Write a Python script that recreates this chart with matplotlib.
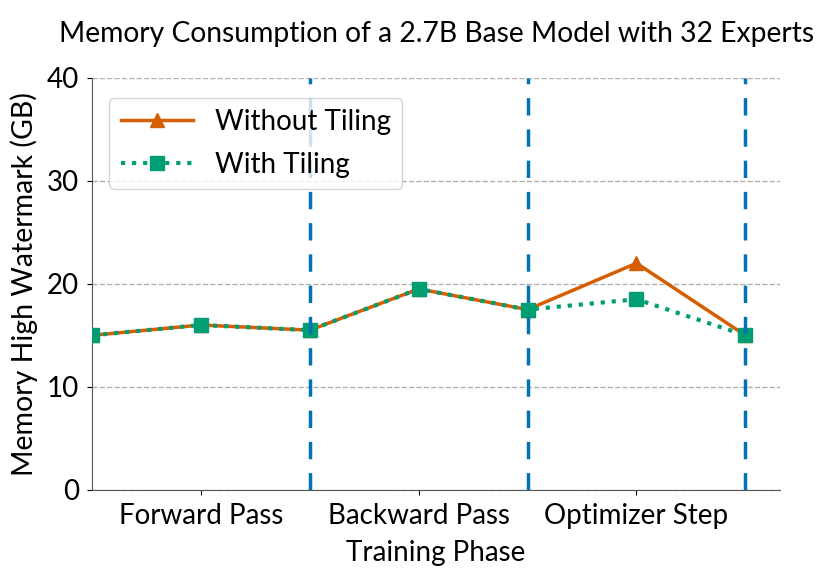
import matplotlib
matplotlib.use("Agg")
import matplotlib.pyplot as plt

plt.rcParams['font.family'] = ['Lato', 'DejaVu Sans']

# data
steps = [0, 1, 2, 3, 4, 5, 6]
without_tiling = [15, 16, 15.5, 19.5, 17.5, 22, 15]
with_tiling = [15, 16, 15.5, 19.5, 17.5, 18.5, 15]
phase_ticks = [1, 3, 5]
phase_labels = ['Forward Pass', 'Backward Pass', 'Optimizer Step']
phase_bounds = [2, 4, 6]

fig = plt.figure(figsize=(8.3, 5.81), dpi=100)
ax = fig.add_axes([0.111, 0.157, 0.829, 0.709])

ax.plot(steps, without_tiling, color='#D55E00', lw=2.5, marker='^', ms=10,
        label='Without Tiling', zorder=3)
ax.plot(steps, with_tiling, color='#029E73', lw=3, ls=':', marker='s', ms=10.5,
        label='With Tiling', zorder=4)

# phase boundaries
for b in phase_bounds:
    ax.axvline(b, color='#0173B2', lw=2.5, ls=(0, (5, 4)), zorder=5)

ax.set_xlim(0, 6.32)
ax.set_ylim(0, 40)
ax.set_yticks([0, 10, 20, 30, 40])
ax.set_xticks(phase_ticks)
ax.set_xticklabels(phase_labels)
ax.tick_params(labelsize=20, pad=6)
ax.grid(axis='y', ls='--', color='#b0b0b0', lw=1)
ax.set_axisbelow(True)
for s in ['top', 'right']:
    ax.spines[s].set_visible(False)
for s in ['left', 'bottom']:
    ax.spines[s].set_color('#555555')

ax.set_xlabel('Training Phase', fontsize=20, labelpad=8)
ax.set_ylabel('Memory High Watermark (GB)', fontsize=20.5, labelpad=6)
ax.set_title('Memory Consumption of a 2.7B Base Model with 32 Experts', fontsize=20.3, pad=26)
leg = ax.legend(loc='upper left', fontsize=20, bbox_to_anchor=(0.005, 0.985), handlelength=2.6,
                edgecolor='#cccccc', labelspacing=0.6)
leg.set_zorder(6)

fig.savefig('out.png', dpi=100)
